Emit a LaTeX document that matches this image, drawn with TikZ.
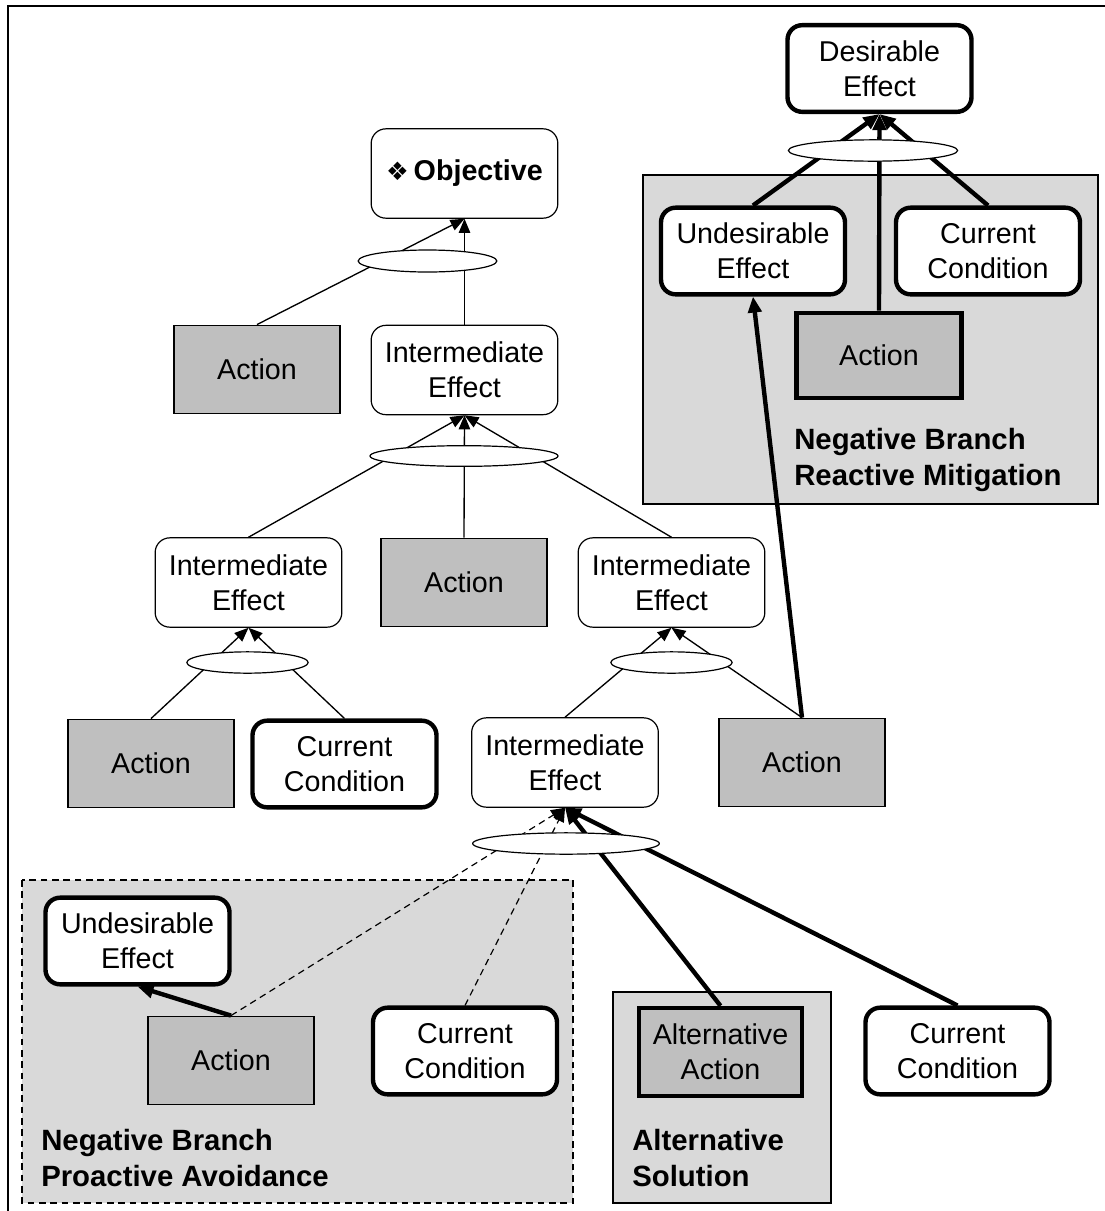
\documentclass[tikz,border=0pt]{standalone}
\usepackage{fontspec}
\setmainfont{Liberation Sans}
\newfontfamily\symfont{DejaVu Sans}
\usetikzlibrary{arrows.meta,shapes.geometric}
\definecolor{actgray}{RGB}{191,191,191}
\definecolor{zonegray}{RGB}{217,217,217}
\begin{document}
\begin{tikzpicture}[x=0.75pt,y=-0.75pt,
  every node/.style={font=\fontsize{21.5}{26.5}\selectfont, align=center, inner sep=0pt, text=black},
  effbox/.style={draw, fill=white, rounded corners=11pt, line width=0.9pt,
                 minimum width=140pt, minimum height=67pt},
  condbox/.style={effbox, line width=3.3pt, minimum width=138pt, minimum height=65pt},
  actbox/.style={draw, fill=actgray, line width=0.9pt,
                 minimum width=124.5pt, minimum height=66.5pt},
  actthick/.style={actbox, line width=3.3pt},
  andnode/.style={ellipse, draw, fill=white, line width=0.9pt},
  zone/.style={fill=zonegray, draw, line width=0.9pt},
  caption/.style={anchor=west, align=left, font=\fontsize{22}{27}\selectfont\bfseries},
  linkarrow/.style={line width=1pt, -{Triangle[length=10.5pt,width=8.5pt]}},
  boldarrow/.style={line width=3.3pt, -{Triangle[length=12pt,width=10pt]}},
  dashlink/.style={line width=0.9pt, dash pattern=on 5pt off 3.5pt, -{Triangle[length=10.5pt,width=8.5pt]}}
]
\useasboundingbox (0,0) rectangle (1105,1211);
\fill[white] (0,0) rectangle (1105,1211);

% outer frame (top and left edges)
\draw[line width=1.6pt] (8,1211) -- (8,6) -- (1105,6);

% grouping zones
\draw[zone] (643,175) rectangle (1098,504);
\draw[zone, dash pattern=on 5pt off 3.5pt] (22,880) rectangle (573,1203);
\draw[zone] (613,992) rectangle (831,1203);

% main tree
\node[effbox] (obj) at (464.5,173.5) {{\symfont\fontsize{19}{19}\selectfont ❖}\,\textbf{Objective}};
\node[actbox] (act1) at (257,369.5) {Action};
\node[effbox] (ie1) at (464.5,370) {Intermediate\\Effect};
\node[effbox] (ie2) at (248.5,582.5) {Intermediate\\Effect};
\node[actbox] (act2) at (464,582.5) {Action};
\node[effbox] (ie3) at (671.5,582.5) {Intermediate\\Effect};
\node[actbox] (act3) at (151,763.5) {Action};
\node[condbox] (cc1) at (344.5,764) {Current\\Condition};
\node[effbox] (ie4) at (565,762.5) {Intermediate\\Effect};
\node[actbox] (act4) at (802,762.5) {Action};

% proactive avoidance branch
\node[condbox] (ue2) at (137.5,941) {Undesirable\\Effect};
\node[actbox] (act5) at (231,1060.5) {Action};
\node[condbox] (cc2) at (465,1051) {Current\\Condition};
\node[caption] (lblpro) at (41,1158) {Negative Branch\\Proactive Avoidance};

% alternative solution
\node[actthick, minimum width=122pt, minimum height=66pt] (alt) at (720.5,1052) {Alternative\\Action};
\node[caption] (lblalt) at (632,1158) {Alternative\\Solution};
\node[condbox] (cc3) at (957.5,1051) {Current\\Condition};

% reactive mitigation branch
\node[condbox] (de) at (879.5,68.5) {Desirable\\Effect};
\node[condbox] (ue1) at (753,251) {Undesirable\\Effect};
\node[condbox] (cc4) at (988,251) {Current\\Condition};
\node[actthick, minimum width=124pt, minimum height=64pt] (act6) at (879,355.5) {Action};
\node[caption] (lblre) at (794,460) {Negative Branch\\Reactive Mitigation};

% sufficiency connectors
\draw[linkarrow] (act1.north) -- (obj.south);
\draw[linkarrow] (ie1.north) -- (obj.south);
\draw[linkarrow] (ie2.north) -- (ie1.south);
\draw[linkarrow] (act2.north) -- (ie1.south);
\draw[linkarrow] (ie3.north) -- (ie1.south);
\draw[linkarrow] (act3.north) -- (ie2.south);
\draw[linkarrow] (cc1.north) -- (ie2.south);
\draw[linkarrow] (ie4.north) -- (ie3.south);
\draw[linkarrow] (act4.north) -- (ie3.south);
\draw[dashlink] (act5.north) -- (ie4.south);
\draw[dashlink] (cc2.north) -- (ie4.south);
\draw[boldarrow] (alt.north) -- (ie4.south);
\draw[boldarrow] (cc3.north) -- (ie4.south);
\draw[boldarrow] (act5.north) -- (ue2.south);
\draw[boldarrow] (act4.north) -- (ue1.south);
\draw[boldarrow] (ue1.north) -- (de.south);
\draw[boldarrow] (act6.north) -- (de.south);
\draw[boldarrow] (cc4.north) -- (de.south);

% AND ellipses
\node[andnode, minimum width=104pt, minimum height=16.5pt] (and1) at (427.5,261) {};
\node[andnode, minimum width=141pt, minimum height=15.5pt] (and2) at (464,456) {};
\node[andnode, minimum width=91pt, minimum height=16pt] (and3) at (247.5,662.5) {};
\node[andnode, minimum width=91pt, minimum height=16pt] (and4) at (671.5,662.5) {};
\node[andnode, minimum width=140pt, minimum height=16pt] (and5) at (566,843.5) {};
\node[andnode, minimum width=127pt, minimum height=16pt] (and6) at (873,150.5) {};
\end{tikzpicture}
\end{document}
